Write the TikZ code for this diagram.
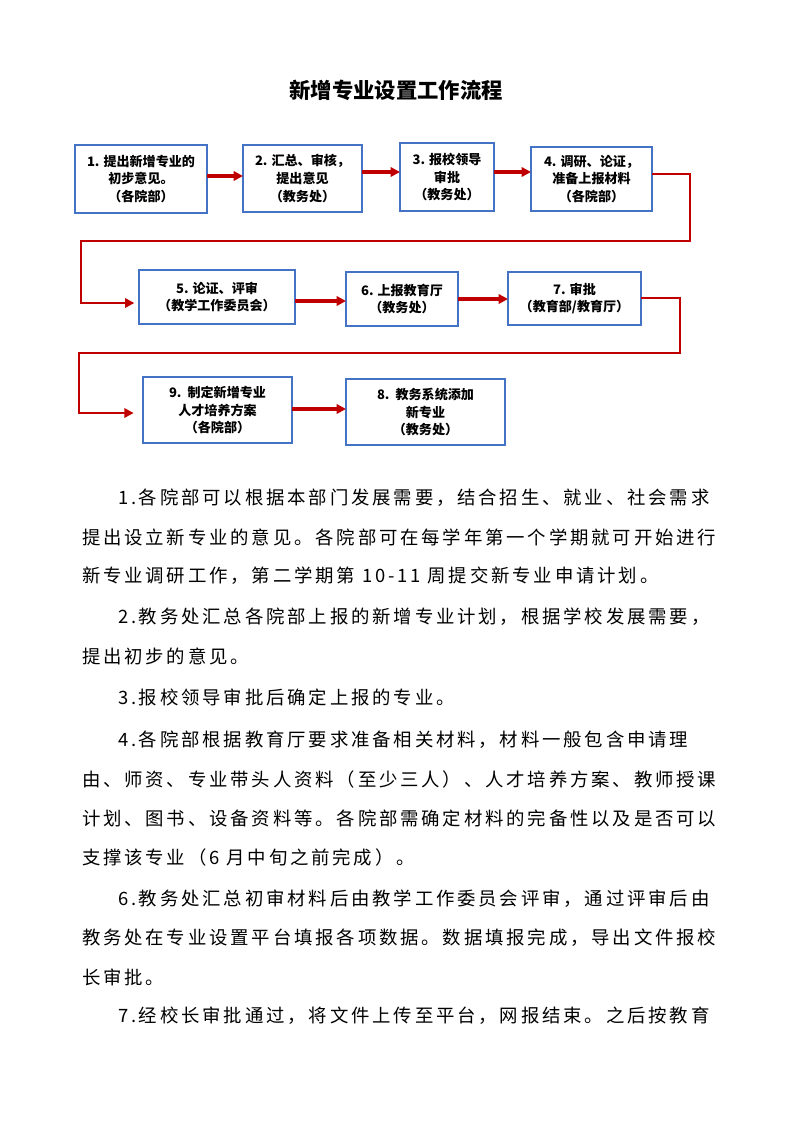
\documentclass[tikz,border=0pt]{standalone}
\usepackage{fontspec}
\newfontfamily\hei{Noto Sans CJK SC}
\newfontfamily\song{Noto Sans CJK SC}[LetterSpace=15.4]
\usepackage{tikz}
\usetikzlibrary{positioning,calc,arrows.meta}
\tikzset{folha/.style={x=0.75pt,y=-0.75pt,every node/.style={inner sep=0pt,outer sep=0pt,anchor=center,align=center}}}
\definecolor{lcazul}{HTML}{4472C4}
\definecolor{lcverm}{HTML}{C00000}
\tikzset{
  titulo/.style={font=\hei\bfseries\fontsize{16pt}{18pt}\selectfont},
  buzhou/.style={draw=lcazul,line width=2pt,fill=white,
    font=\hei\bfseries\fontsize{9.8pt}{13.3pt}\selectfont},
  jiantou/.style={lcverm,line width=2.3pt,-{Triangle[length=7pt,width=7pt]}},
  lianxian/.style={lcverm,line width=1.8pt,-{Triangle[length=7pt,width=7pt]}},
  zhengwen/.style={font=\song\fontsize{13.8pt}{14pt}\selectfont,anchor=west},
}

\begin{document}
\begin{tikzpicture}[folha]
  \useasboundingbox (0,0) rectangle (793,1122);
  \node[titulo] (tit) at (396,90) {新增专业设置工作流程};
  % primeira fila
  \node[buzhou,minimum width=99pt,minimum height=51pt] (p1) at (141,179) {1. 提出新增专业的\\初步意见。\\（各院部）};
  \node[buzhou,minimum width=89.25pt,minimum height=50.25pt] (p2) at (302.5,178.5) {2. 汇总、审核，\\提出意见\\（教务处）};
  \node[buzhou,minimum width=70.5pt,minimum height=51pt] (p3) at (447,177) {3. 报校领导\\审批\\（教务处）};
  \node[buzhou,minimum width=90.75pt,minimum height=48pt] (p4) at (591.5,179) {4. 调研、论证，\\准备上报材料\\（各院部）};
  % segunda fila
  \node[buzhou,minimum width=117pt,minimum height=40.5pt] (p5) at (217,297) {5. 论证、评审\\（教学工作委员会）};
  \node[buzhou,minimum width=84pt,minimum height=40.5pt] (p6) at (402,299) {6. 上报教育厅\\（教务处）};
  \node[buzhou,minimum width=99.75pt,minimum height=39.75pt] (p7) at (574.5,298.5) {7. 审批\\（教育部/教育厅）};
  % terceira fila
  \node[buzhou,minimum width=111.75pt,minimum height=49.5pt] (p9) at (217.5,410) {9.\ \ 制定新增专业\\人才培养方案\\（各院部）};
  \node[buzhou,minimum width=119.25pt,minimum height=49.5pt] (p8) at (425.5,412) {8.\ \ 教务系统添加\\新专业\\（教务处）};
  \foreach \a/\b/\yy in {p1/p2/176,p2/p3/172,p3/p4/172,p5/p6/301,p6/p7/299,p9/p8/409}
    \draw[jiantou] (\a.east |- 0,\yy) -- (\b.west |- 0,\yy);
  \draw[lianxian,shorten >=3.5pt] (p4.east |- 0,174) -- (690,174) |- (81,241) |- (p5.west |- 0,303);
  \draw[lianxian,shorten >=7pt] (p7.east |- 0,298) -- (680,298) |- (79,353) |- (p9.west |- 0,413);
  % texto
  \foreach \yy/\xx/\txt [count=\i] in {
    498/118/{1.各院部可以根据本部门发展需要，结合招生、就业、社会需求},
    537/82/{提出设立新专业的意见。各院部可在每学年第一个学期就可开始进行},
    576/82/{新专业调研工作，第二学期第 10-11 周提交新专业申请计划。},
    617/118/{2.教务处汇总各院部上报的新增专业计划，根据学校发展需要，},
    656/82/{提出初步的意见。},
    697/118/{3.报校领导审批后确定上报的专业。},
    740/118/{4.各院部根据教育厅要求准备相关材料，材料一般包含申请理},
    779/82/{由、师资、专业带头人资料（至少三人）、人才培养方案、教师授课},
    818/82/{计划、图书、设备资料等。各院部需确定材料的完备性以及是否可以},
    857/82/{支撑该专业（6 月中旬之前完成）。},
    899/118/{6.教务处汇总初审材料后由教学工作委员会评审，通过评审后由},
    938/82/{教务处在专业设置平台填报各项数据。数据填报完成，导出文件报校},
    977/82/{长审批。},
    1016/118/{7.经校长审批通过，将文件上传至平台，网报结束。之后按教育}}
    \node[zhengwen] (t\i) at (\xx,\yy) {\txt};
\end{tikzpicture}
\end{document}
